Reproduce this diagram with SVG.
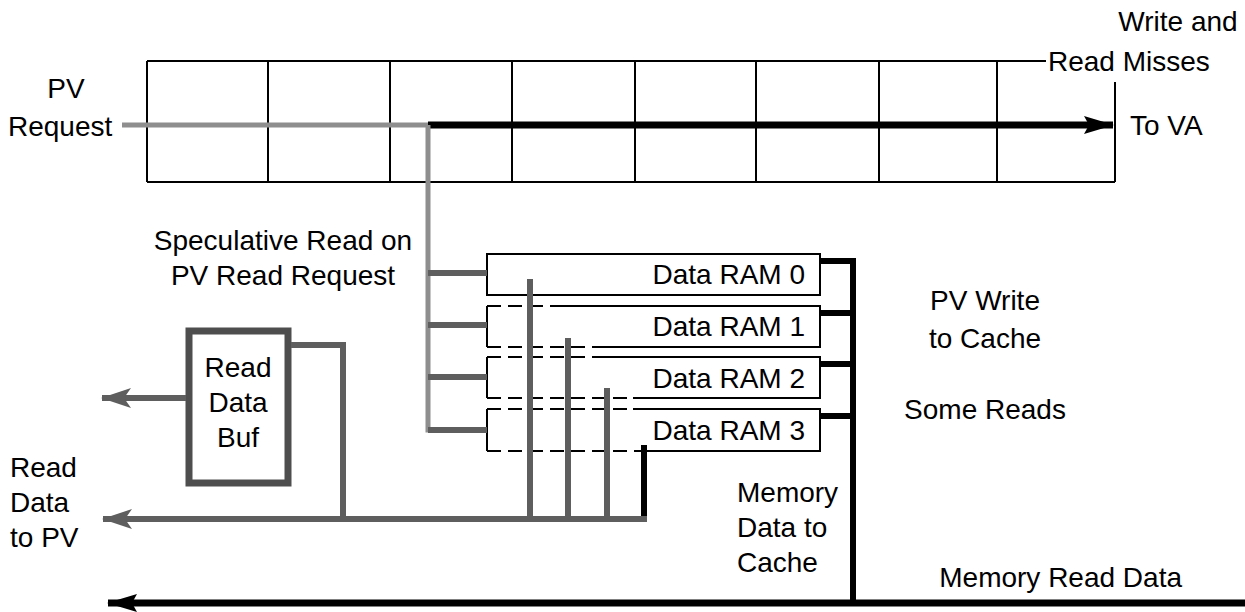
<svg xmlns="http://www.w3.org/2000/svg" width="1245" height="612" viewBox="0 0 1245 612">
<style>
text { font-family: "Liberation Sans", Arial, sans-serif; font-size: 28px; fill: #000; }
.thin { stroke: #000; stroke-width: 2; fill: none; }
.box { stroke: #000; stroke-width: 2; fill: #fff; }
.dash { stroke: #000; stroke-width: 2; fill: none; stroke-dasharray: 14 7; }
.lg { stroke: #8e8e8e; stroke-width: 5; fill: none; }
.g { stroke: #5e5e5e; stroke-width: 6; fill: none; }
.k { stroke: #000; stroke-width: 6; fill: none; }
.kb { stroke: #000; stroke-width: 7; fill: none; }
</style>
<defs>
<marker id="ak" viewBox="0 0 30 20" refX="29" refY="10" markerWidth="30" markerHeight="20" markerUnits="userSpaceOnUse" orient="auto">
<path d="M0,1 L30,10 L0,19 L5,10 z" fill="#000"/>
</marker>
<marker id="ag" viewBox="0 0 30 22" refX="29" refY="11" markerWidth="30" markerHeight="22" markerUnits="userSpaceOnUse" orient="auto">
<path d="M0,1 L30,11 L0,21 L7,11 z" fill="#5e5e5e"/>
</marker>
</defs>

<g id="table">
<line class="thin" x1="147" y1="61" x2="1046" y2="61"/>
<line class="thin" x1="147" y1="182" x2="1115" y2="182"/>
<line class="thin" x1="147" y1="61" x2="147" y2="182"/>
<line class="thin" x1="1115" y1="82" x2="1115" y2="182"/>
<line class="thin" x1="268" y1="61" x2="268" y2="182"/>
<line class="thin" x1="390" y1="61" x2="390" y2="182"/>
<line class="thin" x1="512" y1="61" x2="512" y2="182"/>
<line class="thin" x1="635" y1="61" x2="635" y2="182"/>
<line class="thin" x1="756" y1="61" x2="756" y2="182"/>
<line class="thin" x1="879" y1="61" x2="879" y2="182"/>
<line class="thin" x1="997" y1="61" x2="997" y2="182"/>
</g>

<g id="labels">
<text x="1178" y="31" text-anchor="middle">Write and</text>
<text x="1048" y="71">Read Misses</text>
<text x="1130" y="135">To VA</text>
<text x="66" y="98" text-anchor="middle">PV</text>
<text x="8" y="136">Request</text>
<text x="283" y="250" text-anchor="middle">Speculative Read on</text>
<text x="283" y="285" text-anchor="middle">PV Read Request</text>
<text x="985" y="310" text-anchor="middle">PV Write</text>
<text x="985" y="348" text-anchor="middle">to Cache</text>
<text x="985" y="419" text-anchor="middle">Some Reads</text>
<text x="10" y="477">Read</text>
<text x="10" y="512">Data</text>
<text x="10" y="547">to PV</text>
<text x="737" y="502">Memory</text>
<text x="737" y="537">Data to</text>
<text x="737" y="572">Cache</text>
<text x="1182" y="587" text-anchor="end">Memory Read Data</text>
</g>

<g id="ram0">
<rect class="box" x="487" y="254" width="333" height="41"/>
<text x="805" y="284" text-anchor="end">Data RAM 0</text>
</g>
<g id="ram1">
<rect x="487" y="306" width="333" height="41" fill="#fff"/>
<path class="thin" d="M560,306 H820 V347 H593 M487,306 V347"/>
<path class="dash" d="M487,306 H560 M487,347 H593"/>
<text x="805" y="336" text-anchor="end">Data RAM 1</text>
</g>
<g id="ram2">
<rect x="487" y="357" width="333" height="41" fill="#fff"/>
<path class="thin" d="M600,357 H820 V398 H633 M487,357 V398"/>
<path class="dash" d="M487,357 H600 M487,398 H633"/>
<text x="805" y="388" text-anchor="end">Data RAM 2</text>
</g>
<g id="ram3">
<rect x="487" y="409" width="333" height="42" fill="#fff"/>
<path class="thin" d="M633,409 H820 V451 H640 M487,409 V451"/>
<path class="dash" d="M487,409 H633 M487,451 H640"/>
<text x="805" y="440" text-anchor="end">Data RAM 3</text>
</g>

<g id="readbuf">
<rect x="189" y="331" width="99" height="152" fill="#fff" stroke="#4e4e4e" stroke-width="7"/>
<text x="238" y="377" text-anchor="middle">Read</text>
<text x="238" y="412" text-anchor="middle">Data</text>
<text x="238" y="447" text-anchor="middle">Buf</text>
</g>

<g id="connectors">
<line class="lg" x1="122" y1="125" x2="430" y2="125"/>
<line class="kb" x1="428" y1="125" x2="1113" y2="125" marker-end="url(#ak)"/>
<polyline class="lg" points="428,125 428,430 487,430"/>
<line class="g" x1="428" y1="273" x2="487" y2="273"/>
<line class="g" x1="428" y1="325" x2="487" y2="325"/>
<line class="g" x1="428" y1="377" x2="487" y2="377"/>
<line class="g" x1="428" y1="430" x2="487" y2="430"/>
<line class="g" x1="530" y1="279" x2="530" y2="519"/>
<line class="g" x1="568" y1="338" x2="568" y2="519"/>
<line class="g" x1="607" y1="388" x2="607" y2="519"/>
<line class="k" x1="644" y1="445" x2="644" y2="519"/>
<line class="g" x1="647" y1="519" x2="103" y2="519" marker-end="url(#ag)"/>
<polyline class="g" points="291,345 343,345 343,519"/>
<line class="g" x1="186" y1="398" x2="102" y2="398" marker-end="url(#ag)"/>
<polyline class="k" points="820,261 853,261 853,603"/>
<line class="k" x1="820" y1="313" x2="853" y2="313"/>
<line class="k" x1="820" y1="364" x2="853" y2="364"/>
<line class="k" x1="820" y1="416" x2="853" y2="416"/>
<line class="kb" x1="1245" y1="603" x2="108" y2="603" marker-end="url(#ak)"/>
</g>
</svg>
